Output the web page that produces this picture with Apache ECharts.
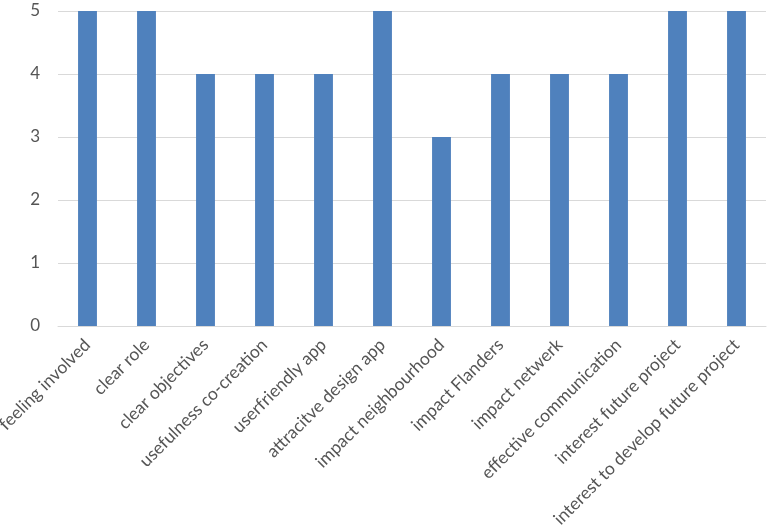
<!DOCTYPE html>
<html>
<head>
<meta charset="utf-8">
<script src="https://cdn.jsdelivr.net/npm/echarts@6/dist/echarts.min.js"></script>
<style>
  html, body { margin: 0; padding: 0; background: #fff; }
  #chart { width: 767px; height: 530px; }
</style>
</head>
<body>
<div id="chart"></div>
<script>
const categories = [
  "feeling involved", "clear role", "clear objectives", "usefulness co-creation",
  "userfriendly app", "attracitve design app", "impact neighbourhood", "impact Flanders",
  "impact netwerk", "effective communication", "interest future project",
  "interest to develop future project"
];
const scores = [5, 5, 4, 4, 4, 5, 3, 4, 4, 4, 5, 5];

const chart = echarts.init(document.getElementById("chart"));
chart.setOption({
  animation: false,
  grid: { left: 58, right: 1, top: 11, bottom: 204, outerBoundsMode: "none" },
  xAxis: {
    type: "category",
    data: categories,
    axisLine: { lineStyle: { color: "#d9d9d9", width: 1 } },
    axisTick: { show: false },
    axisLabel: {
      interval: 0,
      rotate: 45,
      margin: 16,
      color: "#555555",
      fontFamily: "Lato",
      fontSize: 17.5,
    },
  },
  yAxis: {
    type: "value",
    min: 0,
    max: 5,
    interval: 1,
    axisLine: { show: false },
    axisTick: { show: false },
    splitLine: { lineStyle: { color: "#d9d9d9", width: 1 } },
    axisLabel: {
      margin: 18,
      color: "#555555",
      fontFamily: "Lato",
      fontSize: 17,
    },
  },
  series: [
    {
      type: "bar",
      data: scores,
      barWidth: "32%",
      itemStyle: { color: "#4f81bd" },
    },
  ],
});
</script>
</body>
</html>
